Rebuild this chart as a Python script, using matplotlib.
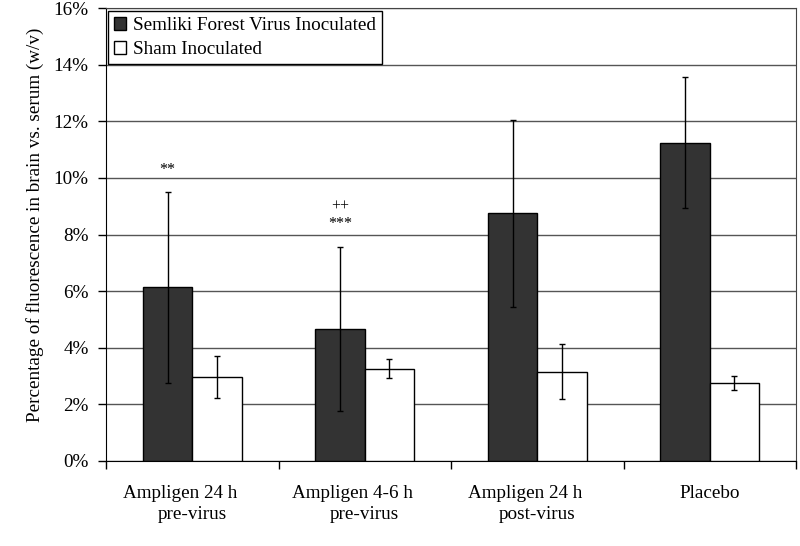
import numpy as np
import matplotlib
matplotlib.use('Agg')
import matplotlib.pyplot as plt
from matplotlib.ticker import FuncFormatter, FixedLocator

plt.rcParams['font.family'] = ['Liberation Serif', 'DejaVu Serif']

# data (percent)
groups = ['Ampligen 24 h     \npre-virus', 'Ampligen 4-6 h     \npre-virus',
          'Ampligen 24 h     \npost-virus', 'Placebo']
sfv = [6.13, 4.67, 8.75, 11.24]
sfv_err = [3.36, 2.90, 3.30, 2.31]
sham = [2.97, 3.26, 3.16, 2.74]
sham_err = [0.74, 0.33, 0.97, 0.25]
marks = ['**', '++\n***', '', '']
mark_y = [10.0, 8.1, 0, 0]

fs = 13.8
fig = plt.figure(figsize=(8, 5.46), dpi=100)
ax = fig.add_axes([0.1325, 0.1557, 0.8625, 0.8296])

x = np.arange(len(groups))
w = 1 / 3.5
ax.bar(x - w / 2, sfv, w, color='#333333', edgecolor='black', linewidth=1,
       label='Semliki Forest Virus Inoculated', zorder=3)
ax.bar(x + w / 2, sham, w, color='white', edgecolor='black', linewidth=1,
       label='Sham Inoculated', zorder=3)
ax.errorbar(x - w / 2, sfv, yerr=sfv_err, fmt='none', ecolor='black',
            elinewidth=1, capsize=2.5, capthick=1, zorder=4)
ax.errorbar(x + w / 2, sham, yerr=sham_err, fmt='none', ecolor='black',
            elinewidth=1, capsize=2.5, capthick=1, zorder=4)

for i, m in enumerate(marks):
    if m:
        ax.text(x[i] - w / 2, mark_y[i], m, ha='center', va='bottom',
                fontsize=11.5, linespacing=1.1)

ax.set_xlim(-0.5, len(groups) - 0.5)
ax.set_ylim(0, 16)
ax.set_yticks(np.arange(0, 17, 2))
ax.yaxis.set_major_formatter(FuncFormatter(lambda v, p: '%d%%' % v))
ax.yaxis.grid(True, color='#555555', linewidth=1, zorder=0)
ax.set_axisbelow(True)

ax.xaxis.set_major_locator(FixedLocator(np.arange(-0.5, len(groups), 1)))
ax.xaxis.set_minor_locator(FixedLocator(x))
ax.set_xticklabels([], minor=False)
ax.set_xticklabels(groups, minor=True, fontsize=fs, linespacing=1.35)
ax.tick_params(axis='x', which='major', direction='out', length=6, width=1)
ax.tick_params(axis='x', which='minor', length=0, pad=17)
ax.tick_params(axis='y', direction='out', length=6, width=1, pad=6.5, labelsize=fs)

for s in ['top', 'right']:
    ax.spines[s].set_color('#444444')
ax.spines['left'].set_color('black')
ax.spines['bottom'].set_color('black')

ax.set_ylabel('Percentage of fluorescence in brain vs. serum (w/v)', fontsize=fs)
ax.yaxis.set_label_coords(-0.09, 0.522)

leg = ax.legend(loc='upper left', bbox_to_anchor=(0.003, 0.993), fontsize=fs,
                frameon=True, fancybox=False, borderaxespad=0, handlelength=0.65,
                handleheight=0.65, handletextpad=0.35, labelspacing=0.35,
                borderpad=0.3)
leg.get_frame().set_edgecolor('black')
leg.get_frame().set_linewidth(1)
leg.get_frame().set_alpha(1)

fig.savefig('out.png', dpi=100)
